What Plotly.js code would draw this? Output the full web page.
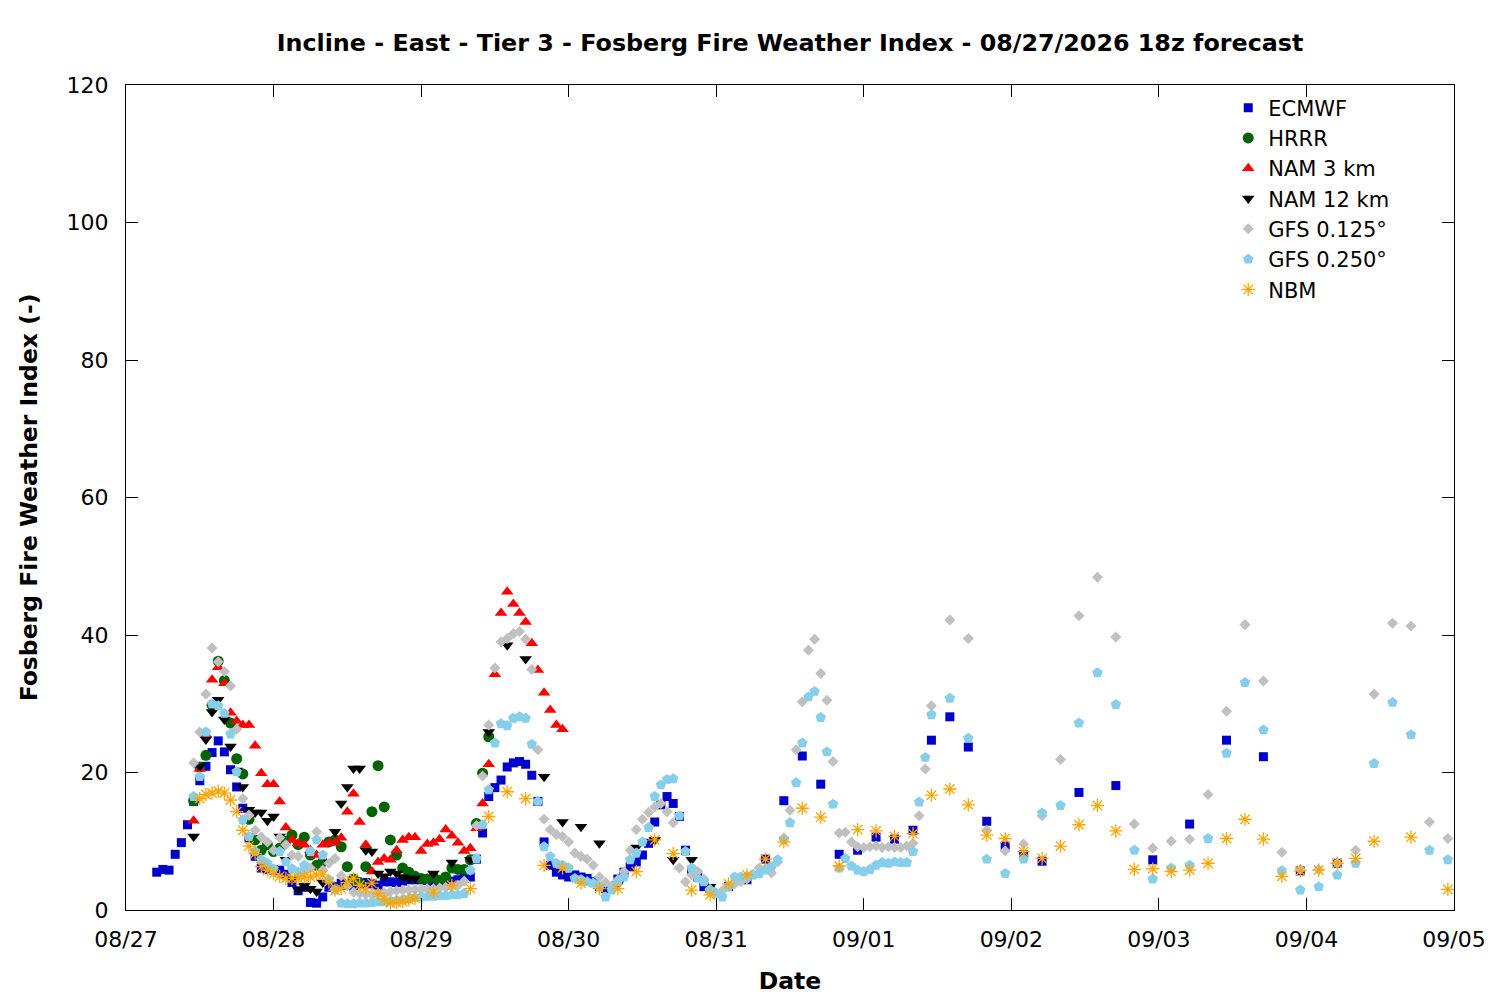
<!DOCTYPE html>
<html>
<head>
<meta charset="utf-8">
<script src="https://cdn.plot.ly/plotly-3.0.1.min.js"></script>
<style>html,body{margin:0;padding:0;background:#fff;}#chart{width:1500px;height:1000px;}</style>
</head>
<body>
<div id="chart"></div>
<script>
// Forecast hours (local time, hours after 08/27 00:00)
const ecmwfHours = [5,6,7,8,9,10,
  11,12,13,14,15,16,17,18,19,20,
  21,22,23,24,25,26,27,28,29,30,
  31,32,33,34,35,36,37,38,39,40,
  41,42,43,44,45,46,47,48,49,50,
  51,52,53,54,55,56,57,58,59,60,
  61,62,63,64,65,66,67,68,69,70,
  71,72,73,74,75,76,77,78,79,80,
  81,82,83,84,85,86,87,88,89,90,
  91,92,93,94,95,
  98,101,104,107,110,113,116,119,122,125,128,131,134,137,140,143,146,149,
  155,161,167,173,179,185,191,197];
const ecmwfValues = [5.5,5.9,5.8,8.1,9.8,12.4,
  15.8,18.8,20.9,22.9,24.6,23.0,20.4,17.9,14.8,10.5,
  7.8,6.1,5.9,5.8,5.8,5.2,4.0,2.8,3.3,1.1,
  1.0,1.9,3.3,3.4,3.9,3.6,3.5,3.8,4.0,3.8,
  3.6,4.1,4.1,4.0,4.2,4.4,4.4,4.4,4.3,4.1,
  4.0,4.0,4.2,4.4,4.6,4.8,7.4,11.2,16.5,17.8,
  18.9,20.8,21.4,21.6,21.2,19.6,15.8,9.9,6.5,5.5,
  5.1,4.8,5.1,4.8,4.6,4.1,3.4,3.1,3.4,4.5,
  5.5,6.3,7.0,8.0,9.7,12.8,15.3,16.5,15.5,13.6,
  8.7,5.6,4.8,3.4,3.1,
  3.4,4.4,7.4,15.9,22.4,18.3,8.1,8.7,10.6,10.3,11.6,24.7,28.1,23.7,12.9,9.3,8.0,7.1,
  17.1,18.1,7.3,12.5,24.7,22.3,5.7,6.8];

const hrrrHours = [11,12,13,14,15,16,17,18,19,20,
  21,22,23,24,25,26,27,28,29,30,
  31,32,33,34,35,36,37,38,39,40,
  41,42,43,44,45,46,47,48,49,50,
  51,52,53,54,55,56,57,58,59];
const hrrrValues = [15.9,20.8,22.5,29.8,36.2,33.4,27.2,22.0,19.8,13.2,
  10.2,8.7,9.5,8.5,9.0,10.0,10.9,9.5,10.6,8.0,
  6.5,7.0,9.9,10.2,9.2,6.3,4.5,4.0,6.3,14.3,
  21.0,15.0,10.2,8.0,6.1,5.5,4.9,4.6,4.5,4.8,
  4.3,4.8,6.1,5.9,5.9,7.3,12.6,19.9,25.2];

const nam3Hours = [11,12,13,14,15,16,17,18,19,20,
  21,22,23,24,25,26,27,28,29,30,
  31,32,33,34,35,36,37,38,39,40,
  41,42,43,44,45,46,47,48,49,50,
  51,52,53,54,55,56,57,58,59,60,
  61,62,63,64,65,66,67,68,69,70,71];
const nam3Values = [13.0,20.5,25.5,33.5,35.3,33.0,28.7,27.5,26.9,26.9,
  23.9,19.9,18.3,18.3,15.8,12.0,10.2,9.7,9.5,8.7,
  8.0,9.5,9.8,9.8,10.5,14.3,16.9,12.8,9.5,5.6,
  7.0,7.5,7.3,8.7,10.2,10.6,10.6,8.6,9.6,9.8,
  10.3,11.7,10.8,9.8,8.6,9.0,11.9,15.5,21.2,34.3,
  43.2,46.3,44.5,43.2,41.9,38.8,34.9,31.6,29.1,26.9,26.3];

const nam12Hours = [11,12,13,14,15,16,17,18,19,20,
  21,22,23,24,25,26,27,28,29,30,
  31,32,33,34,35,36,37,38,39,40,
  41,42,43,44,45,46,47,
  50,53,56,59,62,65,68,71,74,77,80,83,86,89,92,95];
const nam12Values = [10.7,20.9,24.8,28.8,30.6,27.7,23.8,20.3,17.9,14.6,
  14.2,14.2,13.0,13.6,10.7,7.3,4.5,2.9,3.5,3.1,
  2.7,4.0,7.0,11.4,15.5,17.9,20.6,20.6,8.7,8.5,
  5.3,4.9,5.6,5.3,4.8,4.6,4.6,
  5.3,6.9,7.3,25.9,38.5,36.5,19.4,12.8,12.1,9.7,3.8,9.1,10.2,7.3,7.3,3.4];

const gfsHours = [11,12,13,14,15,16,17,18,19,20,
  21,22,23,24,25,26,27,28,29,30,
  31,32,33,34,35,36,37,38,39,40,
  41,42,43,44,45,46,47,48,49,50,
  51,52,53,54,55,56,57,58,59,60,
  61,62,63,64,65,66,67,68,69,70,
  71,72,73,74,75,76,77,78,79,80,
  81,82,83,84,85,86,87,88,89,90,
  91,92,93,94,95,96,97,98,99,100,
  101,102,103,104,105,106,107,108,109,110,
  111,112,113,114,115,116,117,118,119,120,
  121,122,123,124,125,126,127,128,129,130,
  131,
  134,137,140,143,146,149,152,155,158,161,164,167,170,173,176,179,182,185,188,191,194,197,200,203,206,209,212,215];
const gfs0125Values = [21.4,25.9,31.4,38.1,36.1,34.7,32.6,26.3,16.2,13.8,
  11.6,10.6,9.9,8.7,10.5,9.5,8.0,7.8,5.8,6.1,
  11.4,5.8,6.8,7.5,5.0,3.5,2.6,2.4,2.3,2.3,
  2.4,2.5,2.7,2.8,2.9,2.9,3.0,3.0,3.1,3.1,
  3.2,3.3,3.4,3.6,4.2,5.8,12.3,19.5,26.9,35.2,
  39.0,39.5,40.2,40.5,39.4,35.0,23.3,13.2,11.7,11.0,
  10.7,9.9,8.3,7.8,7.4,6.5,4.8,4.0,3.5,4.4,
  5.6,8.7,11.7,13.2,14.2,15.0,15.5,14.3,12.7,6.1,
  4.1,5.1,5.6,4.5,3.0,2.5,2.8,3.5,3.8,4.1,
  4.5,5.2,6.1,6.0,5.4,7.0,10.5,14.5,23.3,30.3,
  37.8,39.4,34.4,30.5,21.6,11.2,11.3,9.9,9.2,9.1,
  9.2,9.3,9.1,9.2,9.1,9.1,9.3,9.7,13.7,20.5,
  29.7,
  42.2,39.5,11.6,8.6,9.6,13.7,21.9,42.8,48.4,39.7,12.5,9.0,10.0,10.3,16.8,28.9,41.5,33.3,8.4,5.9,5.9,6.8,8.7,31.4,41.7,41.3,12.8,10.4];
const gfs0250Values = [16.5,19.4,25.9,30.0,29.7,28.6,25.6,20.1,13.1,10.7,
  8.5,7.3,6.8,6.0,8.5,7.0,6.0,5.5,6.5,8.5,
  10.2,8.0,4.4,2.9,1.0,0.9,0.9,1.0,1.0,1.1,
  1.2,1.2,1.3,1.4,1.5,1.6,1.8,1.9,2.0,2.0,
  2.1,2.1,2.2,2.2,2.4,5.8,7.5,12.4,17.5,24.3,
  27.1,26.8,27.9,28.1,27.9,24.1,15.8,9.2,7.8,6.8,
  6.5,6.1,4.6,4.4,4.1,3.9,3.4,1.9,2.9,4.1,
  4.8,7.3,8.3,9.9,12.0,16.5,18.2,19.0,19.1,13.7,
  8.5,6.1,4.6,4.1,2.9,2.4,1.9,3.4,4.8,4.8,
  4.9,5.1,5.3,5.8,6.3,7.3,10.2,12.7,18.5,24.3,
  31.0,31.8,28.0,23.0,15.4,6.1,7.5,6.4,5.8,5.6,
  5.9,6.5,6.9,6.8,7.0,6.9,6.9,8.5,15.7,22.2,
  28.4,
  30.8,25.0,7.4,5.3,7.4,14.1,15.2,27.2,34.5,29.9,8.7,4.5,6.1,6.5,10.4,22.8,33.1,26.2,5.7,2.9,3.4,5.1,6.8,21.3,30.2,25.5,8.7,7.3];

const nbmHours = [12,13,14,15,16,17,18,19,20,
  21,22,23,24,25,26,27,28,29,30,
  31,32,33,34,35,36,37,38,39,40,
  41,42,43,44,45,46,47,
  50,53,56,59,62,65,68,71,74,77,
  80,83,86,89,92,95,98,101,104,107,
  110,113,116,119,122,125,128,131,134,137,
  140,143,146,149,152,155,158,161,164,167,
  170,173,176,179,182,185,188,191,194,197,
  200,203,209,215];
const nbmValues = [16.2,16.8,17.0,17.3,17.0,16.0,14.3,11.6,9.3,
  8.2,6.3,5.8,5.3,4.9,4.6,4.6,4.6,4.8,4.8,
  5.1,5.1,4.1,2.9,3.1,4.0,4.6,3.6,3.1,3.9,
  2.4,1.6,1.0,1.1,1.2,1.5,1.7,
  2.6,3.6,3.1,13.6,17.2,16.2,6.5,6.1,3.9,3.1,
  3.1,5.6,10.2,8.2,2.9,2.2,3.8,5.1,7.4,9.9,
  14.8,13.5,6.4,11.7,11.5,10.7,11.1,16.7,17.6,15.3,
  10.9,10.4,8.5,7.5,9.3,12.4,15.2,11.5,5.9,6.0,
  5.6,5.8,6.8,10.4,13.2,10.3,4.9,5.7,5.8,6.8,
  7.5,10.0,10.6,3.0];

const seriesNames = ['ECMWF','HRRR','NAM 3 km','NAM 12 km','GFS 0.125\u00b0','GFS 0.250\u00b0','NBM'];
const xTickStart = '2026-08-27';
const xTickEnd = '2026-09-05';

function toDate(h) {
  const d = new Date(Date.UTC(2026, 7, 27, 0, 0, 0) + h * 3600000);
  return d.toISOString().slice(0, 19).replace('T', ' ');
}

const specs = [
  {h: ecmwfHours, v: ecmwfValues, sym: 'square', size: 9, color: '#0000CD'},
  {h: hrrrHours, v: hrrrValues, sym: 'circle', size: 11, color: '#006400'},
  {h: nam3Hours, v: nam3Values, sym: 'triangle-up', size: 11, color: '#FF0000'},
  {h: nam12Hours, v: nam12Values, sym: 'triangle-down', size: 11, color: '#000000'},
  {h: gfsHours, v: gfs0125Values, sym: 'diamond', size: 8.5, color: '#C0C0C0'},
  {h: gfsHours, v: gfs0250Values, sym: 'pentagon', size: 11, color: '#87CEEB'},
  {h: nbmHours, v: nbmValues, sym: 'asterisk', size: 11, color: '#FFA500'}
];

const traces = specs.map((s, i) => {
  const m = {symbol: s.sym, size: s.size, color: s.color};
  if (s.sym === 'asterisk') m.line = {color: s.color, width: 1.3};
  return {
    type: 'scatter', mode: 'markers', name: seriesNames[i],
    x: s.h.map(toDate), y: s.v, marker: m, cliponaxis: true
  };
});

const font = 'DejaVu Sans, Verdana, sans-serif';
const layout = {
  width: 1500, height: 1000,
  margin: {l: 126, r: 46, t: 85, b: 90},
  paper_bgcolor: '#fff', plot_bgcolor: '#fff',
  font: {family: font, size: 22, color: '#000'},
  title: {text: '<b>Incline - East - Tier 3 - Fosberg Fire Weather Index - 08/27/2026 18z forecast</b>',
    font: {family: font, size: 23.8, color: '#000'}, x: 0.5, xref: 'paper', xanchor: 'center',
    y: 0.957, yref: 'container', yanchor: 'middle'},
  xaxis: {
    type: 'date', range: [xTickStart, xTickEnd], tick0: xTickStart, dtick: 86400000,
    tickformat: '%m/%d', ticks: 'inside', ticklen: 12, tickwidth: 1, tickcolor: '#000',
    showline: true, linecolor: '#000', linewidth: 1, mirror: 'ticks',
    showgrid: false, zeroline: false, tickfont: {family: font, size: 22},
    ticklabelstandoff: 10,
    title: {text: '<b>Date</b>', font: {family: font, size: 23.5}, standoff: 21}
  },
  yaxis: {
    range: [0, 120], dtick: 20, tick0: 0, ticks: 'inside', ticklen: 12, tickwidth: 1, tickcolor: '#000',
    showline: true, linecolor: '#000', linewidth: 1, mirror: 'ticks',
    showgrid: false, zeroline: false, tickfont: {family: font, size: 22},
    ticklabelstandoff: 12,
    title: {text: '<b>Fosberg Fire Weather Index (-)</b>', font: {family: font, size: 23.5}, standoff: 22}
  },
  showlegend: true,
  legend: {x: 0.955, xanchor: 'right', y: 0.997, yanchor: 'top', bgcolor: 'rgba(0,0,0,0)',
    font: {family: font, size: 21}, tracegroupgap: 0, itemsizing: 'trace'}
};

Plotly.newPlot('chart', traces, layout, {displayModeBar: false, staticPlot: true});
</script>
</body>
</html>
